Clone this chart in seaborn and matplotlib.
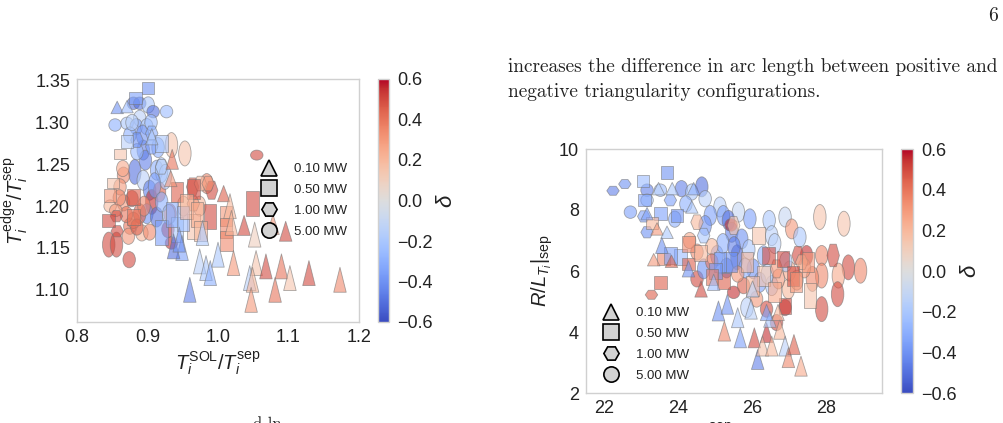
import numpy as np
import pandas as pd
import matplotlib
matplotlib.use("Agg")
import matplotlib.pyplot as plt
import seaborn as sns
from matplotlib.path import Path
from matplotlib.transforms import Affine2D
from matplotlib.lines import Line2D
from matplotlib.colors import Normalize
from matplotlib.cm import ScalarMappable

# ---------------- data: left panel (Ti_SOL/Ti_sep vs Ti_edge/Ti_sep) ----------------
L_TRI_X = [0.857,0.871,0.906,0.935,0.933,1.008,1.017,1.019,1.037,1.052,1.078,1.096,0.978,0.949,0.937,1.000,0.974,0.983,0.989,0.960,1.022,1.054,1.068,1.090,1.102,1.129,1.173,1.045,1.049,1.081,1.047,0.945]
L_TRI_Y = [1.318,1.319,1.283,1.256,1.233,1.215,1.200,1.180,1.177,1.166,1.178,1.170,1.168,1.150,1.152,1.142,1.134,1.126,1.120,1.100,1.132,1.132,1.128,1.128,1.114,1.120,1.112,1.114,1.112,1.100,1.088,1.160]
L_TRI_D = [-0.40,-0.25,-0.20,0.40,0.30,0.45,0.20,0.20,0.50,0.10,0.30,0.50,-0.20,-0.35,-0.50,-0.20,-0.15,-0.20,-0.30,-0.45,0.30,0.15,0.50,0.40,0.15,0.50,0.35,-0.15,0.20,0.40,0.30,-0.40]
L_TRI_A = [1.0,1.0,1.3,1.6,1.3,1.3,2.0,2.0,1.6,2.0,1.6,1.6,2.0,2.0,2.0,2.0,2.0,2.0,2.0,2.0,2.0,2.0,2.0,2.0,2.0,2.0,2.0,2.0,2.0,2.0,2.0,2.0]

L_SQ_X = [0.901,0.883,0.861,0.851,0.847,0.845,0.871,0.920,0.942,0.965,0.989,1.011,1.011,1.012,1.049,0.920,0.942,0.965,0.880,0.880,0.935,0.950,0.955,0.970,0.975]
L_SQ_Y = [1.341,1.329,1.262,1.228,1.213,1.183,1.277,1.275,1.217,1.221,1.188,1.188,1.174,1.158,1.203,1.168,1.172,1.176,1.187,1.211,1.190,1.185,1.200,1.190,1.170]
L_SQ_D = [-0.40,-0.35,0.15,0.15,0.30,0.50,-0.15,-0.20,0.45,0.50,0.50,0.30,0.35,0.35,0.50,-0.35,-0.20,0.15,0.40,0.45,-0.30,-0.25,0.20,0.25,0.20]
L_SQ_A = [1.0,1.0,0.8,0.8,1.0,1.0,1.0,1.3,1.6,1.6,2.0,1.6,1.6,1.6,2.0,2.0,2.0,2.0,1.3,1.3,2.0,2.0,2.0,2.0,1.6]

L_HEX_X = [0.964,0.991,0.975,0.986,0.856,0.857,0.906,0.920,0.906,0.885,0.965]
L_HEX_Y = [1.223,1.219,1.227,1.227,1.188,1.170,1.287,1.247,1.271,1.279,1.203]
L_HEX_D = [0.45,0.50,0.20,0.30,0.50,0.50,-0.30,-0.15,-0.35,-0.40,0.30]
L_HEX_A = [1.6,1.6,1.3,1.3,1.0,1.0,1.3,1.3,1.3,1.3,1.3]

L_CIR_X = [0.845,0.856,0.874,1.055,0.934,0.953,0.854,0.880,0.889,0.901,0.908,0.927,0.889,0.871,0.884,0.899,0.894,0.882,0.894,0.913,0.920,0.903,0.906,0.899,0.913,0.917,0.866,0.861,0.847,0.866,0.875,0.880,0.889,0.892,0.903,0.878,0.934,0.929,0.873,0.951,0.974,0.984,0.932,
           0.875,0.893,0.905,0.915,0.897,0.925,0.910,0.920,0.930,0.885,0.878,0.870,0.860,0.885,0.895,0.855,0.865]
L_CIR_Y = [1.154,1.154,1.136,1.261,1.273,1.263,1.297,1.323,1.323,1.321,1.313,1.313,1.305,1.299,1.295,1.295,1.267,1.241,1.231,1.243,1.243,1.219,1.205,1.191,1.187,1.217,1.237,1.223,1.200,1.204,1.176,1.183,1.191,1.168,1.169,1.209,1.156,1.172,1.164,1.200,1.200,1.227,1.191,
           1.285,1.285,1.300,1.270,1.255,1.235,1.225,1.205,1.190,1.265,1.300,1.190,1.210,1.175,1.200,1.195,1.245]
L_CIR_D = [0.50,0.50,0.50,0.50,0.15,0.15,-0.30,-0.50,-0.50,-0.20,-0.50,-0.25,-0.15,-0.20,-0.35,-0.20,-0.45,-0.50,-0.15,-0.30,-0.20,-0.45,0.55,-0.40,-0.50,0.45,0.35,0.30,0.20,0.30,0.40,0.35,0.45,0.20,0.35,0.50,0.55,0.55,0.30,0.15,0.20,0.35,0.45,
           -0.30,-0.40,-0.25,-0.30,-0.45,-0.20,-0.35,-0.30,-0.20,-0.25,-0.15,0.40,0.35,0.45,0.35,0.30,0.25]
L_CIR_A = [2.0,2.0,1.3,0.8,2.0,2.0,1.0,1.0,1.0,1.3,1.0,1.0,1.3,1.0,1.3,1.3,1.6,2.0,1.6,1.6,2.0,1.6,2.0,1.6,1.6,1.6,1.3,1.3,1.0,1.3,1.3,1.3,1.6,1.3,1.3,1.3,1.0,1.3,1.3,1.6,1.6,1.6,1.6,
           1.3,1.6,1.3,1.6,1.6,2.0,2.0,1.6,1.6,1.3,1.3,1.3,1.3,1.3,1.6,1.0,1.3]

# ---------------- data: right panel (R/L_Ti at separatrix) ----------------
R_TRI_X = [23.33,23.81,23.42,23.55,23.69,23.15,23.83,23.46,24.36,24.41,24.27,24.61,24.95,25.08,25.32,25.24,25.60,25.67,26.05,26.14,25.96,26.38,26.27,26.52,26.74,26.88,26.97,27.12,27.31,26.47,26.38,26.69,26.00]
R_TRI_Y = [6.37,6.32,7.38,6.84,7.27,7.88,8.70,8.70,8.10,8.70,6.07,5.41,5.63,4.69,4.91,4.03,4.47,3.81,3.81,3.10,4.75,3.98,3.54,3.54,4.09,3.54,3.16,3.59,2.88,4.42,4.64,4.64,5.41]
R_TRI_D = [0.30,0.45,0.30,-0.40,-0.20,-0.35,-0.20,-0.15,-0.20,-0.30,-0.40,0.50,-0.25,-0.40,-0.40,0.35,-0.20,-0.35,0.50,-0.45,-0.15,0.55,0.15,0.20,0.20,-0.15,0.35,0.45,0.25,-0.20,-0.35,0.20,-0.15]
R_TRI_A = [1.0,1.0,1.0,1.3,1.0,1.0,1.0,1.0,1.0,1.0,1.3,1.3,1.3,1.6,1.6,1.6,1.6,1.6,1.6,1.6,1.6,1.6,1.6,1.6,1.6,1.6,1.6,1.6,1.6,1.3,1.3,1.3,1.3]

R_SQ_X = [23.69,23.04,23.08,23.51,23.96,23.28,23.60,23.51,24.05,24.27,24.27,25.21,25.85,26.43,26.83,27.10,27.55,26.88,25.40,26.16,25.12,23.78,27.18,26.30,24.60,25.00,26.00,26.60,27.50,24.90]
R_SQ_Y = [9.23,8.95,8.32,7.88,7.82,7.58,6.40,5.63,6.45,6.23,6.89,5.68,6.29,6.51,6.40,5.85,5.19,4.86,6.29,7.16,6.29,6.51,5.63,5.85,6.60,6.00,5.50,5.30,6.30,5.80]
R_SQ_D = [-0.40,-0.25,-0.35,-0.35,-0.40,0.20,0.35,0.45,-0.25,0.45,0.35,0.45,0.20,0.50,0.50,0.50,0.15,0.50,-0.40,0.15,-0.35,-0.35,0.30,0.15,0.20,-0.40,0.20,0.25,0.30,0.40]
R_SQ_A = [1.0,1.0,1.0,1.0,1.0,1.0,1.0,1.0,1.3,1.0,1.3,1.3,1.6,1.3,1.3,1.6,2.0,1.3,1.6,1.3,1.6,1.3,1.6,1.6,1.3,1.3,1.6,1.6,1.6,1.3]

R_HEX_X = [22.23,22.55,23.27,23.15,23.06,25.49,28.18,27.23,24.50,26.65,27.33,23.78,24.68]
R_HEX_Y = [8.63,8.85,5.22,7.27,7.79,7.49,6.51,6.51,7.60,6.07,6.29,8.32,7.16]
R_HEX_D = [-0.45,-0.40,0.45,-0.40,-0.35,0.15,0.50,0.50,0.20,0.30,0.20,-0.35,-0.20]
R_HEX_A = [0.8,0.8,0.8,1.0,1.0,1.6,2.0,1.6,1.3,1.6,1.3,1.0,1.3]

R_CIR_X = [22.70,23.15,23.15,23.51,24.08,24.36,24.63,24.72,25.12,25.62,25.93,26.45,26.88,27.82,28.47,27.06,27.28,26.52,24.86,24.72,25.21,25.35,25.44,25.71,25.58,25.04,26.02,26.20,26.52,25.42,27.87,28.59,28.92,27.87,28.32,27.62,27.87,28.30,26.38,26.88,26.65,25.49,25.85,26.11,25.76,24.50,26.97,26.70,27.46,24.68,24.50,
           25.20,25.50,25.90,26.30,26.60,25.80,25.30,24.90,26.40,27.00,27.40,27.20,25.60,24.30,24.90,26.90,23.90,24.20]
R_CIR_Y = [7.93,8.65,8.32,8.65,8.70,8.59,8.76,8.37,8.10,7.93,7.71,7.66,7.77,7.77,7.55,7.38,7.11,7.16,7.82,7.49,7.82,7.66,7.27,7.05,6.45,6.51,6.07,5.63,5.52,7.51,6.51,6.12,6.01,5.85,5.85,5.74,4.75,5.24,4.75,4.80,4.31,5.30,4.80,5.08,5.52,5.74,5.41,5.74,6.51,6.07,6.62,
           6.90,6.80,6.70,6.50,6.90,6.10,6.10,6.80,5.90,6.00,6.10,5.70,5.90,7.00,6.30,6.30,7.70,8.20]
R_CIR_D = [-0.35,-0.45,-0.20,-0.25,-0.45,-0.20,-0.50,-0.15,-0.15,-0.10,-0.35,-0.20,-0.10,0.15,0.15,0.30,-0.20,-0.15,-0.35,-0.40,-0.35,-0.50,-0.45,-0.40,-0.55,-0.35,-0.40,-0.35,-0.20,0.55,0.35,0.50,0.35,0.35,0.25,0.35,0.50,0.50,0.50,0.55,0.50,0.55,-0.15,0.30,0.45,0.50,0.20,0.30,0.55,-0.40,0.35,
           -0.30,-0.45,-0.20,-0.30,-0.15,-0.30,-0.50,0.20,-0.15,0.25,0.30,0.30,0.30,0.25,0.40,-0.20,-0.30,-0.30]
R_CIR_A = [1.0,1.0,1.0,1.0,1.3,1.3,1.6,1.3,1.6,1.6,1.6,1.6,1.6,2.0,2.0,1.6,1.6,1.6,1.6,1.6,1.6,1.6,1.6,1.6,2.0,1.6,1.6,1.6,1.6,1.0,1.6,2.0,2.0,2.0,2.0,2.0,2.0,2.0,1.3,1.3,1.3,1.0,1.6,1.3,1.3,1.3,1.6,1.6,1.6,1.6,1.3,
           1.6,1.6,1.6,1.6,1.6,1.6,1.6,1.3,1.6,1.6,1.6,1.6,1.3,1.3,1.3,1.6,1.3,1.3]

POWER_LABELS = ["0.10 MW", "0.50 MW", "1.00 MW", "5.00 MW"]
LEGEND_MARKERS = ["^", "s", "H", "o"]
CBAR_TICKS = [-0.6, -0.4, -0.2, 0.0, 0.2, 0.4, 0.6]
L_XTICKS = [0.8, 0.9, 1.0, 1.1, 1.2]
L_YTICKS = [1.10, 1.15, 1.20, 1.25, 1.30, 1.35]
R_XTICKS = [22, 24, 26, 28]
R_YTICKS = [2, 4, 6, 8, 10]

PARA_1 = "increases the difference in arc length between positive and"
PARA_2 = "negative triangularity configurations."

# ---------------- style ----------------
sns.set_theme(style="white")
plt.rcParams["font.family"] = ["Liberation Sans", "DejaVu Sans"]
plt.rcParams["mathtext.fontset"] = "custom"
plt.rcParams["mathtext.rm"] = "Liberation Sans"
plt.rcParams["mathtext.it"] = "Liberation Sans:italic"
plt.rcParams["mathtext.bf"] = "Liberation Sans:bold"
plt.rcParams["text.color"] = "#222222"
plt.rcParams["xtick.color"] = "#222222"
plt.rcParams["ytick.color"] = "#222222"
plt.rcParams["axes.labelcolor"] = "#222222"

DPI = 100
MARKER_W_PX = 12.5


def shape_path(kind, a):
    if kind == "tri":
        v = [(-0.5, -0.5 * a), (0.5, -0.5 * a), (0.0, 0.5 * a), (-0.5, -0.5 * a)]
        return Path(v, closed=True)
    if kind == "sq":
        v = [(-0.5, -0.5 * a), (0.5, -0.5 * a), (0.5, 0.5 * a), (-0.5, 0.5 * a), (-0.5, -0.5 * a)]
        return Path(v, closed=True)
    if kind == "hex":
        h = 0.5 * a * 0.9
        v = [(0.5, 0), (0.25, h), (-0.25, h), (-0.5, 0), (-0.25, -h), (0.25, -h), (0.5, 0)]
        return Path(v, closed=True)
    circ = Path.unit_circle()
    return circ.transformed(Affine2D().scale(0.5, 0.5 * a))


def extent(kind, a):
    if kind == "hex":
        return max(1.0, 0.9 * a)
    return max(1.0, a)


def build(groups):
    frames = []
    for kind, xs, ys, ds, asp in groups:
        frames.append(pd.DataFrame({"x": xs, "y": ys, "delta": ds,
                                    "key": [f"{kind}|{a}" for a in asp]}))
    df = pd.concat(frames, ignore_index=True)
    markers, sizes = {}, {}
    for k in df["key"].unique():
        kind, a = k.split("|")
        a = float(a)
        markers[k] = shape_path(kind, a)
        pts = MARKER_W_PX * extent(kind, a) * 72.0 / DPI
        sizes[k] = pts ** 2
    return df, markers, sizes


left_df, left_mk, left_sz = build([
    ("cir", L_CIR_X, L_CIR_Y, L_CIR_D, L_CIR_A),
    ("hex", L_HEX_X, L_HEX_Y, L_HEX_D, L_HEX_A),
    ("sq", L_SQ_X, L_SQ_Y, L_SQ_D, L_SQ_A),
    ("tri", L_TRI_X, L_TRI_Y, L_TRI_D, L_TRI_A),
])
right_df, right_mk, right_sz = build([
    ("cir", R_CIR_X, R_CIR_Y, R_CIR_D, R_CIR_A),
    ("hex", R_HEX_X, R_HEX_Y, R_HEX_D, R_HEX_A),
    ("sq", R_SQ_X, R_SQ_Y, R_SQ_D, R_SQ_A),
    ("tri", R_TRI_X, R_TRI_Y, R_TRI_D, R_TRI_A),
])

W, H = 1004, 423
fig = plt.figure(figsize=(W / DPI, H / DPI), dpi=DPI)


def frac(x0, y0, x1, y1):
    return [x0 / W, 1 - y1 / H, (x1 - x0) / W, (y1 - y0) / H]


axL = fig.add_axes(frac(77, 79, 359, 322))
caxL = fig.add_axes(frac(378, 79, 389, 322))
axR = fig.add_axes(frac(586, 149, 882, 393))
caxR = fig.add_axes(frac(901, 149, 913, 393))

norm = Normalize(-0.6, 0.6)
cmap = plt.get_cmap("coolwarm")

for ax, df, mk, sz in [(axL, left_df, left_mk, left_sz), (axR, right_df, right_mk, right_sz)]:
    sns.scatterplot(data=df, x="x", y="y", hue="delta", palette="coolwarm",
                    hue_norm=(-0.6, 0.6), style="key", markers=mk,
                    size="key", sizes=sz, alpha=0.6, edgecolor="0.45",
                    linewidth=0.6, legend=False, ax=ax)
    for sp in ax.spines.values():
        sp.set_color("#d0d0d0")
        sp.set_linewidth(1.0)
    ax.tick_params(labelsize=13, length=0, pad=5)

axL.set_xlim(0.8, 1.2)
axL.set_ylim(1.0615, 1.352)
axL.set_xticks(L_XTICKS)
axL.set_xticklabels([f"{v:.1f}" for v in L_XTICKS])
axL.set_yticks(L_YTICKS)
axL.set_yticklabels([f"{v:.2f}" for v in L_YTICKS])
axL.set_xlabel(r"$T_i^{\rm SOL}/T_i^{\rm sep}$", fontsize=14.5, labelpad=3)
axL.set_ylabel(r"$T_i^{\rm edge}/T_i^{\rm sep}$", fontsize=14.5, labelpad=3)

axR.set_xlim(21.5, 29.5)
axR.set_ylim(2, 10)
axR.set_xticks(R_XTICKS)
axR.set_yticks(R_YTICKS)
axR.set_xlabel(r"$T_i^{\rm sep}$ [eV]", fontsize=14.5, labelpad=3)
axR.set_ylabel(r"$R/L_{T_i}|_{\rm sep}$", fontsize=14.5, labelpad=3)

for cax in (caxL, caxR):
    cb = fig.colorbar(ScalarMappable(norm=norm, cmap=cmap), cax=cax, ticks=CBAR_TICKS)
    cb.outline.set_edgecolor("#d0d0d0")
    cb.outline.set_linewidth(1.0)
    cax.tick_params(labelsize=13, length=0, pad=6)
    cax.set_yticklabels([f"{v:.1f}".replace("-", "\u2212") for v in CBAR_TICKS])
    cb.set_label(r"$\delta$", fontsize=16, labelpad=2)

handles = [Line2D([], [], marker=m, linestyle="", markerfacecolor="#d3d3d3",
                  markeredgecolor="black", markeredgewidth=1.2, markersize=11)
           for m in LEGEND_MARKERS]
for ax, anchor in [(axL, (261 / W, 1 - 163 / H)), (axR, (603 / W, 1 - 307 / H))]:
    ax.legend(handles, POWER_LABELS, loc="upper left", bbox_to_anchor=anchor,
              bbox_transform=fig.transFigure, frameon=False, fontsize=9.5,
              handlelength=1.2, handletextpad=1.3, labelspacing=0.65,
              borderpad=0, borderaxespad=0)

# page text
fig.text(998 / W, 1 - 21 / H, "6", family="cmr10", fontsize=14, ha="right", va="baseline")
fig.text(508 / W, 1 - 72 / H, PARA_1, family="cmr10", fontsize=13.9, ha="left", va="baseline")
fig.text(508 / W, 1 - 97 / H, PARA_2, family="cmr10", fontsize=13.9, ha="left", va="baseline")
fig.text(253 / W, 1 - 417 / H, "d ln", family="cmr10", fontsize=12, ha="left", va="top")

fig.savefig("out.png", dpi=DPI)
